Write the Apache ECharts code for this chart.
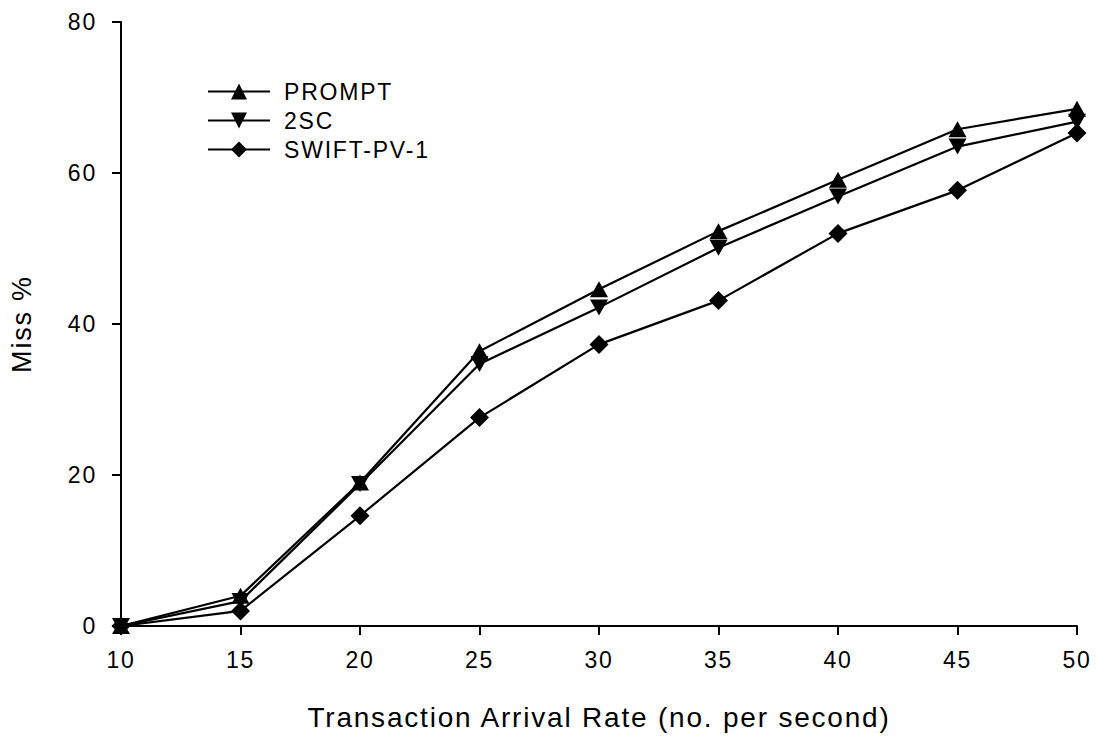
<!DOCTYPE html>
<html>
<head>
<meta charset="utf-8">
<script src="https://cdn.jsdelivr.net/npm/echarts@6/dist/echarts.min.js"></script>
<style>
html,body{margin:0;padding:0;background:#fff}
#c{width:1096px;height:736px}
#c svg text{letter-spacing:1.8px}
</style>
</head>
<body>
<div id="c"></div>
<script>
const xValues = [10, 15, 20, 25, 30, 35, 40, 45, 50];
const promptVals = [0, 4.0, 19.0, 36.4, 44.6, 52.3, 59.1, 65.8, 68.5];
const twoSCVals = [0, 3.3, 18.8, 34.7, 42.2, 50.1, 56.9, 63.5, 66.8];
const swiftVals = [0, 2.0, 14.6, 27.6, 37.3, 43.1, 52.0, 57.7, 65.3];
const seriesNames = ['PROMPT', '2SC', 'SWIFT-PV-1'];

const pair = (vals) => xValues.map((x, i) => [x, vals[i]]);
const font = 'Liberation Sans, Arial, Helvetica, sans-serif';
const downTri = 'path://M0,0 L10,0 L5,9 Z';
const upTri = 'path://M5,0 L10,9 L0,9 Z';

const chart = echarts.init(document.getElementById('c'), null, { renderer: 'svg' });
const mk = (name, vals, symbol, size) => ({
  name, type: 'line', data: pair(vals), symbol, symbolSize: size,
  showAllSymbol: true,
  lineStyle: { color: '#000', width: 2.2 },
  itemStyle: { color: '#000' },
  emphasis: { disabled: true },
  animation: false
});
chart.setOption({
  animation: false,
  grid: { left: 118, right: 19, top: 22, bottom: 109 },
  legend: {
    orient: 'vertical', left: 207, top: 80, padding: 0,
    itemWidth: 62, itemHeight: 20, itemGap: 6,
    textStyle: { fontFamily: font, fontSize: 23, color: '#000', padding: [0, 0, 0, 9] },
    data: seriesNames
  },
  xAxis: {
    type: 'value', min: 10, max: 50, interval: 5,
    name: 'Transaction Arrival Rate (no. per second)', nameLocation: 'middle', nameGap: 77,
    nameTextStyle: { fontFamily: font, fontSize: 28, color: '#000' },
    axisLine: { lineStyle: { color: '#000', width: 2 } },
    axisTick: { show: true, length: 9, lineStyle: { color: '#000', width: 2 } },
    axisLabel: { fontFamily: font, fontSize: 23, color: '#000', margin: 22 },
    splitLine: { show: false }
  },
  yAxis: {
    type: 'value', min: 0, max: 80, interval: 20,
    name: 'Miss %', nameLocation: 'middle', nameGap: 86, nameRotate: 90,
    nameTextStyle: { fontFamily: font, fontSize: 27, color: '#000' },
    axisLine: { show: true, lineStyle: { color: '#000', width: 2 } },
    axisTick: { show: true, length: 9, lineStyle: { color: '#000', width: 2 } },
    axisLabel: { fontFamily: font, fontSize: 23, color: '#000', margin: 24 },
    splitLine: { show: false }
  },
  series: [
    mk(seriesNames[0], promptVals, upTri, [18, 16]),
    mk(seriesNames[1], twoSCVals, downTri, [18, 16]),
    mk(seriesNames[2], swiftVals, 'diamond', [19, 19])
  ]
});
</script>
</body>
</html>
